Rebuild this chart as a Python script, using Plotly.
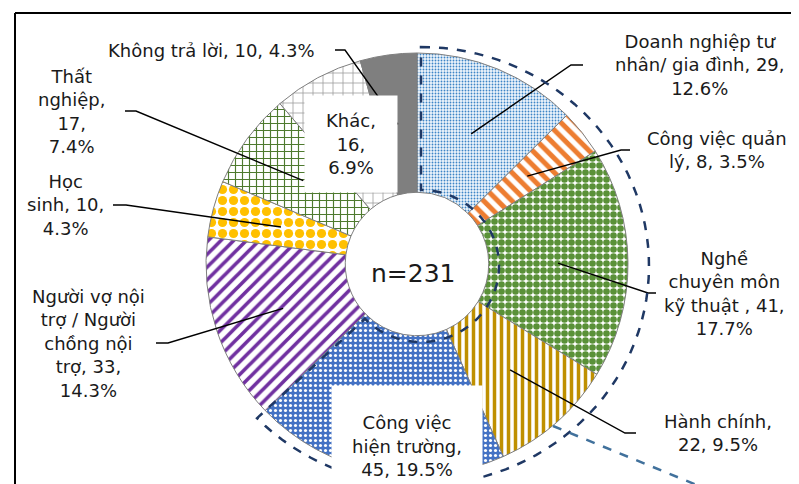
import math
import plotly.graph_objects as go

W, H = 799, 484

# data, clockwise from 12 o'clock
categories = [
    "Doanh nghiệp tư nhân/ gia đình",
    "Công việc quản lý",
    "Nghề chuyên môn kỹ thuật",
    "Hành chính",
    "Công việc hiện trường",
    "Người vợ nội trợ / Người chồng nội trợ",
    "Học sinh",
    "Thất nghiệp",
    "Khác",
    "Không trả lời",
]
counts = [29, 8, 41, 22, 45, 33, 10, 17, 16, 10]
label_texts = [
    "Doanh nghiệp tư<br>nhân/ gia đình, 29,<br>12.6%",
    "Công việc quản<br>lý, 8, 3.5%",
    "Nghề<br>chuyên môn<br>kỹ thuật , 41,<br>17.7%",
    "Hành chính,<br>22, 9.5%",
    "Công việc<br>hiện trường,<br>45, 19.5%",
    "Người vợ nội<br>trợ / Người<br>chồng nội<br>trợ, 33,<br>14.3%",
    "Học<br>sinh, 10,<br>4.3%",
    "Thất<br>nghiệp,<br>17,<br>7.4%",
    "Khác,<br>16,<br>6.9%",
    "Không trả lời, 10, 4.3%",
]
total_text = "n=231"

# styling per slice
colors = ["#5B9BD5", "#ED7D31", "#5A9138", "#BF9000", "#4472C4",
          "#7030A0", "#FFC000", "#4E7A2E", "#A6A6A6", "#7F7F7F"]
shapes_ = [".", "\\", ".", "|", ".", "/", ".", "+", "+", ""]
fg = ["#3D85C6", "#ED7D31", "#5A9138", "#BF9000", "#FFFFFF",
      "#7030A0", "#FFC000", "#4E7A2E", "#9A9A9A", "#7F7F7F"]
bg = ["#EEF5FC", "#FFFFFF", "#FFFFFF", "#FFFFFF", "#4472C4",
      "#FFFFFF", "#FFFFFF", "#FFFFFF", "#FFFFFF", "#7F7F7F"]
psize = [3, 10, 7, 7, 5, 9, 11, 7, 10, 8]
psol = [0.3, 0.5, 0.7, 0.5, 0.3, 0.4, 0.55, 0.3, 0.15, 0.5]

# pie geometry (pixels)
cx, cy, R = 409, 256, 208
hole = 0.34


def px(x):
    return x / W


def py(y):
    return 1 - y / H


Rd = R + 3  # plotly trims the pie slightly inside its domain
fig = go.Figure(go.Pie(
    labels=categories,
    values=counts,
    sort=False,
    direction="clockwise",
    hole=hole,
    textinfo="none",
    hoverinfo="label+value+percent",
    marker=dict(
        colors=colors,
        line=dict(color="#7F7F7F", width=1),
        pattern=dict(shape=shapes_, fgcolor=fg, bgcolor=bg,
                     size=psize, solidity=psol, fillmode="replace"),
    ),
    domain=dict(x=[px(cx - Rd), px(cx + Rd)], y=[py(cy + Rd), py(cy - Rd)]),
    showlegend=False,
))

# label placement: text centre x, y, leader start x, elbow x (None = boxed label)
label_pos = [
    (692, 57, 575, 563),
    (709, 142, 622, 613),
    (716, 285, 648, 640),
    (710, 425, 628, 617),
    (399, 438, None, None),
    (80, 335, 148, 160),
    (58, 197, 105, 118),
    (63, 103, 117, 128),
    (343, 136, None, None),
    (203, 42, 327, 337),
]
box_size = {4: (148, 118), 8: (90, 94)}

tot = sum(counts)
cum = 0
mids = []
for v in counts:
    mids.append((cum + v / 2) / tot * 2 * math.pi)
    cum += v

annotations = []
shapes = []
r_lead = 141
for i, (tx, ty, sx, ex) in enumerate(label_pos):
    ann = dict(x=px(tx), y=py(ty), xref="paper", yref="paper",
               text=label_texts[i], showarrow=False,
               xanchor="center", yanchor="middle", align="center",
               font=dict(size=18, color="#1a1a1a"))
    if sx is None:
        w, h = box_size[i]
        ann.update(bgcolor="white", width=w, height=h)
        annotations.append(ann)
        continue
    annotations.append(ann)
    a = mids[i]
    lx = cx + r_lead * math.sin(a)
    ly = cy - r_lead * math.cos(a)
    shapes.append(dict(
        type="path", xref="paper", yref="paper",
        path=f"M {px(sx)} {py(ty)} L {px(ex)} {py(ty)} L {px(lx)} {py(ly)}",
        line=dict(color="black", width=1.4),
    ))

annotations.append(dict(x=px(405), y=py(265), xref="paper", yref="paper",
                        text=total_text, showarrow=False,
                        font=dict(size=25, color="#1a1a1a")))

# dashed outline around the working groups (first five slices)
end_a = sum(counts[:5]) / tot * 2 * math.pi
ocx, ocy, orx, ory = 413, 258, 228, 219
irx, iry = 78, 76
pts = []
n = 80
for k in range(n + 1):
    a = end_a * k / n
    pts.append((ocx + orx * math.sin(a), ocy - ory * math.cos(a)))
for k in range(n + 1):
    a = end_a * (n - k) / n
    pts.append((ocx + irx * math.sin(a), ocy - iry * math.cos(a)))
path = "M " + " L ".join(f"{px(x):.5f} {py(y):.5f}" for x, y in pts) + " Z"
shapes.append(dict(type="path", xref="paper", yref="paper", path=path,
                   line=dict(color="#1F3864", width=2.5, dash="dash")))

# call-out dashed line
shapes.append(dict(type="line", xref="paper", yref="paper",
                   x0=px(545), y0=py(418), x1=px(830), y1=py(535),
                   line=dict(color="#41719C", width=2.5, dash="dash")))

# frame (top and left edges)
shapes.append(dict(type="line", xref="paper", yref="paper",
                   x0=px(7), y0=py(5), x1=1.01, y1=py(5),
                   line=dict(color="black", width=2)))
shapes.append(dict(type="line", xref="paper", yref="paper",
                   x0=px(7), y0=py(5), x1=px(7), y1=-0.01,
                   line=dict(color="black", width=2)))

fig.update_layout(
    width=W, height=H,
    margin=dict(l=0, r=0, t=0, b=0),
    paper_bgcolor="white",
    font=dict(family="DejaVu Sans, sans-serif"),
    annotations=annotations,
    shapes=shapes,
)

fig.write_html("out.html")
